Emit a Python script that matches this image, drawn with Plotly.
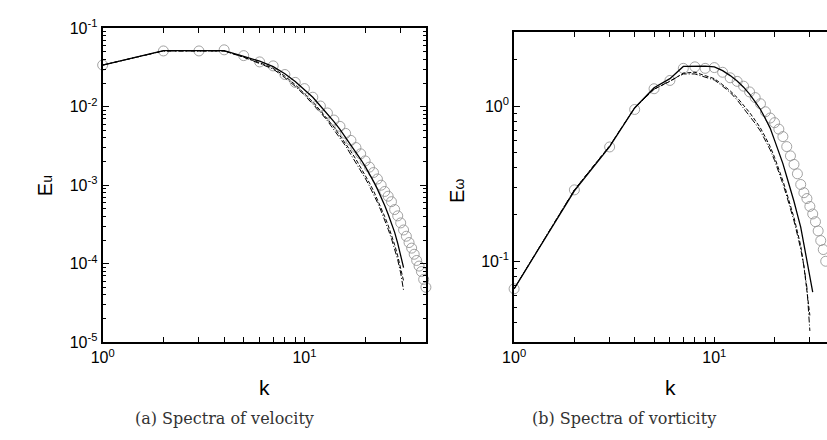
import plotly.graph_objects as go

# ---------------- data ----------------
# (a) velocity spectra
k_ref_u = list(range(1, 41))
E_ref_u = [0.0339, 0.0513, 0.0513, 0.0530, 0.0447, 0.0372, 0.0331, 0.0257, 0.0204, 0.0170,
           0.0132, 0.0102, 0.00832, 0.00676, 0.00562, 0.00457, 0.00372, 0.00302, 0.00251, 0.00204,
           0.00170, 0.00145, 0.00120, 0.00100, 0.000832, 0.000724, 0.000617, 0.000490, 0.000407, 0.000331,
           0.000269, 0.000224, 0.000186, 0.000158, 0.000132, 0.000110, 0.0000933, 0.0000794, 0.0000631, 0.0000501]

k_les_u = list(range(1, 32))
E_solid_u = [0.0339, 0.0519, 0.0519, 0.0519, 0.0437, 0.0380, 0.0324, 0.0263, 0.0209, 0.0166,
             0.0132, 0.0102, 0.00813, 0.00646, 0.00513, 0.00407, 0.00324, 0.00263, 0.00214, 0.00174,
             0.00141, 0.00112, 0.000891, 0.000708, 0.000550, 0.000427, 0.000331, 0.000251, 0.000182, 0.000132,
             0.0000891]
E_dash_u = [0.0339, 0.0513, 0.0513, 0.0513, 0.0427, 0.0363, 0.0309, 0.0245, 0.0191, 0.0148,
            0.0115, 0.00891, 0.00692, 0.00550, 0.00427, 0.00339, 0.00269, 0.00214, 0.00170, 0.00135,
            0.00107, 0.000851, 0.000661, 0.000513, 0.000398, 0.000309, 0.000234, 0.000174, 0.000126, 0.0000891,
            0.0000603]
E_dashdot_u = [0.0339, 0.0513, 0.0513, 0.0513, 0.0427, 0.0355, 0.0302, 0.0234, 0.0182, 0.0141,
               0.0110, 0.00851, 0.00661, 0.00513, 0.00398, 0.00316, 0.00245, 0.00195, 0.00155, 0.00123,
               0.000977, 0.000776, 0.000603, 0.000468, 0.000363, 0.000275, 0.000209, 0.000155, 0.000112, 0.0000759,
               0.0000457]

# (b) vorticity spectra
k_ref_w = list(range(1, 41))
E_ref_w = [0.0664, 0.289, 0.547, 0.955, 1.30, 1.47, 1.76, 1.80, 1.76, 1.78,
           1.66, 1.53, 1.45, 1.35, 1.24, 1.14, 1.04, 0.923, 0.841, 0.785,
           0.713, 0.638, 0.550, 0.479, 0.422, 0.367, 0.313, 0.277, 0.254, 0.226,
           0.202, 0.180, 0.157, 0.136, 0.119, 0.100, 0.0871, 0.0741, 0.0631, 0.0525]

k_solid_w = list(range(1, 32))
E_solid_w = [0.0664, 0.285, 0.550, 0.977, 1.32, 1.51, 1.81, 1.82, 1.82, 1.80,
             1.70, 1.58, 1.46, 1.33, 1.20, 1.07, 0.955, 0.832, 0.724, 0.603,
             0.507, 0.427, 0.351, 0.293, 0.243, 0.200, 0.166, 0.129, 0.102, 0.0776,
             0.0631]
k_other_w = list(range(1, 31))
E_dash_w = [0.0664, 0.289, 0.556, 0.977, 1.29, 1.45, 1.64, 1.66, 1.58, 1.51,
            1.38, 1.26, 1.14, 1.02, 0.912, 0.813, 0.724, 0.631, 0.550, 0.468,
            0.398, 0.331, 0.275, 0.229, 0.191, 0.155, 0.126, 0.0933, 0.0660, 0.0447]
E_dashdot_w = [0.0664, 0.289, 0.556, 0.977, 1.29, 1.45, 1.62, 1.62, 1.55, 1.48,
               1.35, 1.23, 1.10, 0.977, 0.871, 0.776, 0.692, 0.603, 0.525, 0.447,
               0.380, 0.316, 0.263, 0.219, 0.182, 0.148, 0.120, 0.0933, 0.0676, 0.0355]

# tick definitions
x_tickvals = [1, 2, 3, 4, 5, 6, 7, 8, 9, 10, 20, 30, 40]
x_ticktext = ["10<sup>0</sup>", "", "", "", "", "", "", "", "", "10<sup>1</sup>", "", "", ""]
yu_tickvals = [1e-5, 1e-4, 1e-3, 1e-2, 1e-1]
yu_ticktext = ["10<sup>-5</sup>", "10<sup>-4</sup>", "10<sup>-3</sup>", "10<sup>-2</sup>", "10<sup>-1</sup>"]
yw_tickvals = [0.1, 1]
yw_ticktext = ["10<sup>-1</sup>", "10<sup>0</sup>"]

# ---------------- figure ----------------
W, H = 827, 440
fig = go.Figure()

circle = dict(symbol="circle-open", size=10, color="#8c8c8c", line=dict(width=0.8, color="#8c8c8c"))


def add_panel(xa, ya, k_ref, e_ref, lines):
    fig.add_trace(go.Scatter(x=k_ref, y=e_ref, mode="markers", marker=circle,
                             xaxis=xa, yaxis=ya, showlegend=False, cliponaxis=False))
    for kk, ee, dash, w in lines:
        fig.add_trace(go.Scatter(x=kk, y=ee, mode="lines",
                                 line=dict(color="black", width=w, dash=dash),
                                 xaxis=xa, yaxis=ya, showlegend=False))


add_panel("x", "y", k_ref_u, E_ref_u, [
    (k_les_u, E_dashdot_u, "6px,2px,1px,2px", 1.0),
    (k_les_u, E_dash_u, "4px,2px", 1.0),
    (k_les_u, E_solid_u, "solid", 1.3),
])
add_panel("x2", "y2", k_ref_w, E_ref_w, [
    (k_other_w, E_dashdot_w, "6px,2px,1px,2px", 1.0),
    (k_other_w, E_dash_w, "4px,2px", 1.0),
    (k_solid_w, E_solid_w, "solid", 1.3),
])

tickfont = dict(family="Liberation Sans, Arial, sans-serif", size=16, color="black")


def minor_vals(decades):
    vals = []
    for d in decades:
        for m in range(2, 10):
            vals.append(m * 10.0 ** d)
    return vals


axis_common = dict(type="log", showgrid=False, zeroline=False, showline=True,
                   linecolor="black", linewidth=2, ticks="inside", tickcolor="black",
                   tickwidth=1, tickfont=tickfont, tickmode="array")

# panel (a)
fig.update_layout(
    xaxis=dict(axis_common, domain=[92 / W, 420 / W], range=[0, 1.60206], anchor="y",
               tickvals=x_tickvals, ticktext=x_ticktext, ticklen=5, mirror="ticks"),
    yaxis=dict(axis_common, domain=[1 - 347 / H, 1 - 18 / H], range=[-5, -1], anchor="x",
               tickvals=yu_tickvals, ticktext=yu_ticktext, ticklen=6, mirror="ticks",
               minor=dict(tickvals=minor_vals([-5, -4, -3, -2]), ticks="inside", ticklen=3,
                          tickcolor="black", tickwidth=1, showgrid=False)),
    xaxis2=dict(axis_common, domain=[509.5 / W, 1.0], range=[0, 1.5627], anchor="y2",
                tickvals=x_tickvals, ticktext=x_ticktext, ticklen=5, mirror="ticks"),
    yaxis2=dict(axis_common, domain=[1 - 347 / H, 1 - 22.5 / H], range=[-1.52288, 0.47712],
                anchor="x2", tickvals=yw_tickvals, ticktext=yw_ticktext, ticklen=6, mirror=False,
                minor=dict(tickvals=[0.03, 0.04, 0.05, 0.06, 0.07, 0.08, 0.09,
                                     0.2, 0.3, 0.4, 0.5, 0.6, 0.7, 0.8, 0.9, 2, 3],
                           ticks="inside", ticklen=3, tickcolor="black", tickwidth=1,
                           showgrid=False)),
)

k_font = dict(family="Liberation Sans, Arial, sans-serif", size=21, color="black")
e_font = dict(family="Liberation Sans, Arial, sans-serif", size=20, color="black")
cap_font = dict(family="DejaVu Serif, Liberation Serif, serif", size=16, color="#333333")

annotations = [
    dict(text="k", x=256 / W, y=1 - 394 / H, font=k_font),
    dict(text="k", x=668 / W, y=1 - 394 / H, font=k_font),
    dict(text="E<span style='font-size:14px'>u</span>", x=33 / W, y=1 - 183 / H,
         font=e_font, textangle=-90),
    dict(text="E<span style='font-size:14px'>ω</span>", x=452 / W, y=1 - 188 / H,
         font=e_font, textangle=-90),
    dict(text="(a) Spectra of velocity", x=216 / W, y=1 - 427 / H, font=cap_font),
    dict(text="(b) Spectra of vorticity", x=621 / W, y=1 - 427 / H, font=cap_font),
]
for a in annotations:
    a.update(xref="paper", yref="paper", showarrow=False, xanchor="center", yanchor="middle")

fig.update_layout(
    width=W, height=H, margin=dict(l=0, r=0, t=0, b=0),
    paper_bgcolor="white", plot_bgcolor="white",
    annotations=annotations, showlegend=False,
)

fig.write_html("out.html")
